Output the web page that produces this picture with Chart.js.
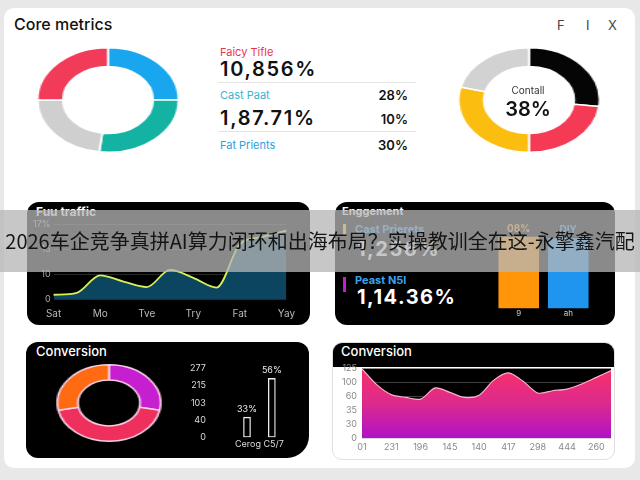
<!DOCTYPE html>
<html>
<head>
<meta charset="utf-8">
<script src="https://cdn.jsdelivr.net/npm/chart.js@4.4.1/dist/chart.umd.min.js"></script>
<style>
html, body { margin: 0; padding: 0; }
body { width: 640px; height: 480px; background: #e8e8e8; position: relative; overflow: hidden;
       font-family: Inter, "Noto Sans", sans-serif; color: #111; }
.abs { position: absolute; }
.card { left: 4px; top: 8px; width: 631px; height: 460px; background: #fff; border-radius: 10px; }
.txt { position: absolute; white-space: nowrap; }
.big { font-size: 20px; line-height: 22px; font-weight: 600; letter-spacing: 1.7px; }
.hr { position: absolute; height: 1px; background: #e4e4e4; }
.panel { position: absolute; background: #000; border-radius: 12px; }
.ptitle { position: absolute; color: #fff; font-weight: 700; white-space: nowrap; }
.stretch { transform: scaleX(1.35); }
.banner { left: 0; top: 210px; width: 640px; height: 62px; background: rgba(182,182,182,0.76);
          font-family: "Noto Sans CJK SC", sans-serif; font-size: 20px; line-height: 62px;
          text-align: center; color: #151515; white-space: nowrap; z-index: 10; }
</style>
</head>
<body>
<div class="abs card"></div>

<div class="txt" style="left:14px;top:14px;font-size:16px;line-height:20px;font-weight:500;">Core metrics</div>
<div class="txt" style="left:557px;top:17px;font-size:13px;line-height:16px;color:#444;">F</div>
<div class="txt" style="left:586px;top:17px;font-size:13px;line-height:16px;color:#444;">I</div>
<div class="txt" style="left:608px;top:17px;font-size:13px;line-height:16px;color:#444;">X</div>

<div class="txt" style="left:220px;top:45px;font-size:11px;line-height:14px;color:#e8364f;">Faicy Tifle</div>
<div class="txt big" style="left:220px;top:58px;">10,856%</div>
<div class="hr" style="left:218px;top:82px;width:198px;"></div>
<div class="txt" style="left:220px;top:88px;font-size:11px;line-height:14px;color:#39b3cf;">Cast Paat</div>
<div class="txt" style="left:350px;top:87px;width:58px;text-align:right;font-size:13px;line-height:16px;font-weight:600;">28%</div>
<div class="txt big" style="left:220px;top:107px;">1,87.71%</div>
<div class="txt" style="left:350px;top:111px;width:58px;text-align:right;font-size:13px;line-height:16px;font-weight:600;">10%</div>
<div class="hr" style="left:218px;top:131px;width:198px;"></div>
<div class="txt" style="left:220px;top:138px;font-size:11px;line-height:14px;color:#2a9fe0;">Fat Prients</div>
<div class="txt" style="left:350px;top:137px;width:58px;text-align:right;font-size:13px;line-height:16px;font-weight:600;">30%</div>

<div class="abs stretch" style="left:55px;top:47px;width:106px;height:106px;"><canvas id="coreDonut"></canvas></div>
<div class="abs stretch" style="left:476px;top:47px;width:106px;height:106px;"><canvas id="contDonut"></canvas></div>
<div class="txt" style="left:488px;top:83px;width:80px;text-align:center;font-size:10px;line-height:14px;color:#333;">Contall</div>
<div class="txt" style="left:478px;top:97px;width:100px;text-align:center;font-size:20px;line-height:24px;font-weight:600;">38%</div>

<!-- traffic -->
<div class="panel" style="left:27px;top:202px;width:283px;height:123px;"></div>
<div class="ptitle" style="left:36px;top:204px;font-size:12px;line-height:16px;">Fuu traffic</div>
<div class="abs" style="left:30px;top:216px;width:274px;height:113px;"><canvas id="traffic"></canvas></div>

<!-- engagement -->
<div class="panel" style="left:335px;top:202px;width:280px;height:123px;"></div>
<div class="ptitle" style="left:342px;top:203px;font-size:11px;line-height:16px;">Enggement</div>
<div class="abs" style="left:343px;top:224px;width:3px;height:12px;background:#f5d020;"></div>
<div class="txt" style="left:355px;top:222px;font-size:11px;line-height:14px;color:#3aa0f0;font-weight:700;">Cast Prierets</div>
<div class="txt" style="left:357px;top:237px;font-size:20px;line-height:24px;color:#fff;font-weight:700;letter-spacing:1.5px;">1,256%</div>
<div class="abs" style="left:343px;top:277px;width:3px;height:15px;background:#c020d0;"></div>
<div class="txt" style="left:355px;top:273px;font-size:11px;line-height:14px;color:#3aa0f0;font-weight:700;">Peast N5l</div>
<div class="txt" style="left:357px;top:285px;font-size:20px;line-height:24px;color:#fff;font-weight:700;letter-spacing:1.5px;">1,14.36%</div>
<div class="abs" style="left:490px;top:220px;width:110px;height:98px;"><canvas id="engage"></canvas></div>

<!-- conversion donut -->
<div class="panel" style="left:26px;top:342px;width:283px;height:116px;border-radius:12px 12px 22px 12px;"></div>
<div class="ptitle" style="left:36px;top:343px;font-size:13px;line-height:16px;font-weight:500;">Conversion</div>
<div class="abs stretch" style="left:70px;top:364px;width:78px;height:78px;"><canvas id="convDonut"></canvas></div>
<div class="abs" style="left:180px;top:353px;width:123px;height:100px;"><canvas id="rate"></canvas></div>

<!-- conversion area -->
<div class="abs" style="left:332px;top:342px;width:281px;height:116px;background:#fff;border:1px solid #e0e0e0;border-radius:10px;overflow:hidden;">
  <div style="height:24px;background:#000;"></div>
</div>
<div class="ptitle" style="left:341px;top:343px;font-size:13px;line-height:16px;font-weight:500;">Conversion</div>
<div class="abs" style="left:337px;top:358px;width:278px;height:99px;"><canvas id="convArea"></canvas></div>

<div class="abs banner">2026车企竞争真拼AI算力闭环和出海布局？实操教训全在这-永擎鑫汽配</div>

<script>
// core metrics donut (clockwise from top)
var coreLabels = ['Cast Paat', 'Fat Prients', 'Other', 'Faicy Tifle'];
var coreValues = [25, 27, 23, 25];

// control donut
var contLabels = ['A', 'B', 'C', 'D'];
var contValues = [27, 23, 29, 21];

// traffic line
var trafficLabels = ['Sat', '', 'Mo', '', 'Tve', '', 'Try', '', 'Fat', '', 'Yay'];
var trafficValues = [1.7, 2.5, 9.5, 7, 4.8, 11.7, 8.5, 4.6, 22, 25, 27.5];
var trafficTicks = ['0', '10', '15', '17%'];

// engagement bars
var engageLabels = ['9', 'ah'];
var engageValues = [87, 85];
var engageTags = ['08%', 'DIY'];

// conversion donut + bars
var convDonutValues = [28, 44, 28];
var rateLabels = ['Cerog C5/7'];
var rateValues = [30, 86];
var rateTags = ['33%', '56%'];
var rateTicks = ['0', '40', '103', '215', '277'];

// conversion area
var convLabels = ['01', '', '231', '', '196', '', '145', '', '140', '', '417', '', '298', '', '444', '', '260', ''];
var convValues = [124, 96, 78, 73, 70, 90, 82, 73, 77, 104, 117, 102, 81, 85, 88, 97, 109, 121];
var convTicks = ['0', '30', '35', '60', '100', '125'];

Chart.defaults.animation = false;
Chart.defaults.font.family = 'Inter, "Noto Sans", sans-serif';
Chart.defaults.plugins.legend.display = false;
Chart.defaults.plugins.tooltip.enabled = false;
Chart.defaults.maintainAspectRatio = false;

var plotBg = {
    id: 'plotBg',
    beforeDraw: function (chart, args, opts) {
        var a = chart.chartArea, ctx = chart.ctx;
        ctx.save();
        ctx.fillStyle = opts.color;
        ctx.fillRect(a.left, a.top, a.width, a.height);
        ctx.restore();
    }
};

var barTags = {
    id: 'barTags',
    afterDatasetsDraw: function (chart, args, opts) {
        var ctx = chart.ctx, k = 0;
        ctx.save();
        ctx.font = opts.font;
        ctx.textAlign = 'center';
        ctx.textBaseline = 'bottom';
        chart.data.datasets.forEach(function (ds, di) {
            chart.getDatasetMeta(di).data.forEach(function (el) {
                ctx.fillStyle = opts.colors[k];
                ctx.fillText(opts.texts[k], el.x, el.y - 3);
                k++;
            });
        });
        ctx.restore();
    }
};

function donut(id, labels, values, colors, cutout, border) {
    return new Chart(document.getElementById(id), {
        type: 'doughnut',
        data: { labels: labels, datasets: [{ data: values, backgroundColor: colors, borderColor: border, borderWidth: 1.5 }] },
        options: { cutout: cutout, layout: { padding: 0 } }
    });
}

donut('coreDonut', coreLabels, coreValues, ['#18a6ee', '#13b2a2', '#cfcfcf', '#f23b58'], '64%', '#fff');
donut('contDonut', contLabels, contValues, ['#050505', '#f43a55', '#fbbd10', '#d2d2d2'], '64%', '#fff');
donut('convDonut', ['M', 'P', 'O'], convDonutValues, ['#c61fd0', '#f0305c', '#ff6a12'], '60%', '#f6d0e6');

var noGridX = { display: false, drawTicks: false };

new Chart(document.getElementById('traffic'), {
    type: 'line',
    data: {
        labels: trafficLabels,
        datasets: [{
            data: trafficValues, fill: 'origin', backgroundColor: '#0c4560',
            borderColor: '#d8ef5c', borderWidth: 1.8, pointRadius: 0, cubicInterpolationMode: 'monotone'
        }]
    },
    options: {
        layout: { padding: { top: 7, right: 16 } },
        scales: {
            x: { grid: noGridX, border: { display: false },
                 ticks: { color: '#b8b8b8', font: { size: 10 }, padding: 9, autoSkip: false, maxRotation: 0 } },
            y: { min: 0, max: 30, border: { display: false },
                 grid: { color: 'rgba(255,255,255,0.16)', drawTicks: false },
                 ticks: { stepSize: 10, autoSkip: false, color: '#aaa', font: { size: 9 }, padding: 3,
                          callback: function (v, i) { return trafficTicks[i]; } } }
        }
    }
});

new Chart(document.getElementById('engage'), {
    type: 'bar',
    data: { labels: engageLabels, datasets: [{ data: engageValues, backgroundColor: ['#ff960a', '#1f95f0'],
            barPercentage: 0.82, categoryPercentage: 1 }] },
    options: {
        layout: { padding: { left: 4, right: 7, top: 6 } },
        plugins: { barTags: { texts: engageTags, colors: ['#ffa030', '#3aa8f5'], font: 'bold 10px Inter' } },
        scales: {
            x: { grid: noGridX, border: { display: false },
                 ticks: { color: '#ccc', font: { size: 8 }, padding: 0 } },
            y: { display: false, min: 0, max: 100 }
        }
    },
    plugins: [barTags]
});

new Chart(document.getElementById('rate'), {
    type: 'bar',
    data: {
        labels: rateLabels,
        datasets: [
            { data: [rateValues[0]], backgroundColor: 'rgba(0,0,0,0)', borderColor: '#eee', borderWidth: 1.3,
              borderSkipped: false, barPercentage: 0.31, categoryPercentage: 0.57 },
            { data: [rateValues[1]], backgroundColor: 'rgba(0,0,0,0)', borderColor: '#eee', borderWidth: 1.3,
              borderSkipped: false, barPercentage: 0.31, categoryPercentage: 0.57 }
        ]
    },
    options: {
        layout: { padding: { top: 2 } },
        plugins: { barTags: { texts: rateTags, colors: ['#eee', '#eee'], font: '9px Inter' } },
        scales: {
            x: { grid: noGridX, border: { display: false },
                 ticks: { color: '#ddd', font: { size: 9 }, padding: 1 } },
            y: { min: 0, max: 100, grid: { display: false, drawTicks: false }, border: { display: false },
                 ticks: { stepSize: 25, autoSkip: false, color: '#ddd', font: { size: 9 }, padding: 10,
                          callback: function (v, i) { return rateTicks[i]; } } }
        }
    },
    plugins: [barTags]
});

new Chart(document.getElementById('convArea'), {
    type: 'line',
    data: {
        labels: convLabels,
        datasets: [{
            data: convValues, fill: 'origin', borderColor: '#ffb0d0', borderWidth: 1.2, pointRadius: 0, tension: 0.3,
            backgroundColor: function (c) {
                var a = c.chart.chartArea;
                if (!a) return '#e0307a';
                var g = c.chart.ctx.createLinearGradient(0, a.top, 0, a.bottom);
                g.addColorStop(0, '#f8306a');
                g.addColorStop(0.5, '#dc2a8c');
                g.addColorStop(1, '#b012c8');
                return g;
            }
        }]
    },
    options: {
        layout: { padding: { right: 2 } },
        plugins: { plotBg: { color: '#000' } },
        scales: {
            x: { grid: noGridX, border: { display: false },
                 ticks: { color: '#888', font: { size: 9 }, padding: 4, autoSkip: false, maxRotation: 0 } },
            y: { min: 0, max: 125, z: 1, border: { display: false },
                 grid: { color: 'rgba(255,255,255,0.25)', drawTicks: false },
                 ticks: { stepSize: 25, autoSkip: false, color: '#888', font: { size: 9 }, padding: 5,
                          callback: function (v, i) { return convTicks[i]; } } }
        }
    },
    plugins: [plotBg]
});
</script>
</body>
</html>
